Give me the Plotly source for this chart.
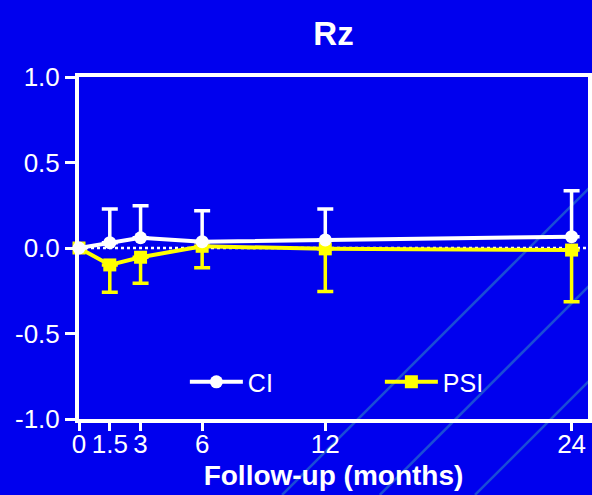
import plotly.graph_objects as go

# Follow-up time points (months)
months = [0, 1.5, 3, 6, 12, 24]

# CI group: mean change and upper error
ci_mean = [0.0, 0.031, 0.060, 0.037, 0.047, 0.066]
ci_err_up = [0.0, 0.197, 0.187, 0.181, 0.181, 0.269]

# PSI group: mean change and lower error
psi_mean = [0.0, -0.099, -0.054, 0.010, -0.005, -0.012]
psi_err_down = [0.0, 0.160, 0.152, 0.125, 0.250, 0.302]

x_ticks = [0, 1.5, 3, 6, 12, 24]
x_tick_text = ["0", "1.5", "3", "6", "12", "24"]
y_ticks = [-1.0, -0.5, 0.0, 0.5, 1.0]
y_tick_text = ["-1.0", "-0.5", "0.0", "0.5", "1.0"]

BG = "#0000EE"
WHITE = "#FFFFFF"
YELLOW = "#FFFF00"
FONT = "Liberation Sans"
zeros = [0.0] * len(months)

fig = go.Figure()

fig.add_trace(go.Scatter(
    x=months, y=psi_mean, name="PSI", mode="lines+markers",
    line=dict(color=YELLOW, width=4),
    marker=dict(symbol="square", size=13, color=YELLOW),
    error_y=dict(type="data", symmetric=False, array=zeros,
                 arrayminus=psi_err_down, color=YELLOW,
                 thickness=3.5, width=8),
    cliponaxis=False, legendrank=2,
))

fig.add_trace(go.Scatter(
    x=months, y=ci_mean, name="CI", mode="lines+markers",
    line=dict(color=WHITE, width=4),
    marker=dict(symbol="circle", size=13, color=WHITE),
    error_y=dict(type="data", symmetric=False, array=ci_err_up,
                 arrayminus=zeros, color=WHITE,
                 thickness=3.5, width=8),
    cliponaxis=False, legendrank=1,
))

# dotted reference line at zero
fig.add_shape(type="line", xref="x", yref="y", x0=0, x1=24.8, y0=0, y1=0,
              line=dict(color=WHITE, width=2.5, dash="dot"), layer="below")

# faint diagonal stripes of the backdrop
stripes = [(0.399, -0.222, 1.008, 0.684),
           (0.591, -0.222, 1.008, 0.398),
           (0.778, -0.222, 1.008, 0.120)]
for x0, y0, x1, y1 in stripes:
    fig.add_shape(type="line", xref="paper", yref="paper",
                  x0=x0, y0=y0, x1=x1, y1=y1,
                  line=dict(color="#1A4CD6", width=2.5), layer="below")

axis_common = dict(
    showline=True, linecolor=WHITE, linewidth=4, mirror=True,
    showgrid=False, zeroline=False, ticks="outside",
    tickcolor=WHITE, tickwidth=3,
    tickfont=dict(family=FONT, size=26, color=WHITE),
)

fig.update_xaxes(
    range=[0, 24.8], tickmode="array", tickvals=x_ticks, ticktext=x_tick_text,
    ticklen=8, tickangle=0, ticklabelstandoff=-9,
    title=dict(text="Follow-up (months)", standoff=8,
               font=dict(family=FONT, size=28, color=WHITE, weight="bold")),
    **axis_common,
)
fig.update_yaxes(
    range=[-1, 1], tickmode="array", tickvals=y_ticks, ticktext=y_tick_text,
    ticklen=10,
    **axis_common,
)

fig.update_layout(
    width=592, height=495,
    margin=dict(l=79, r=4, t=77, b=76, autoexpand=False),
    paper_bgcolor=BG, plot_bgcolor=BG,
    title=dict(text="Rz", x=0.5, xref="paper", y=1 - 33 / 495,
               yanchor="middle", xanchor="center",
               font=dict(family=FONT, size=33, color=WHITE, weight="bold")),
    legend=dict(orientation="h", x=0.208, y=0.108, xanchor="left",
                yanchor="middle", bgcolor="rgba(0,0,0,0)",
                itemwidth=53, entrywidth=127, entrywidthmode="pixels",
                font=dict(family=FONT, size=25, color=WHITE)),
    showlegend=True,
)

fig.write_html("out.html")
